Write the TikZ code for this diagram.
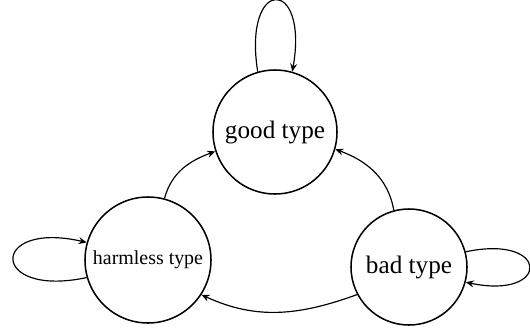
\documentclass[tikz,border=0pt]{standalone}
\usepackage{fontspec}
\setmainfont{Liberation Serif}
\usetikzlibrary{arrows.meta}

\begin{document}
\begin{tikzpicture}[>={Stealth[length=7pt,width=6pt,inset=2.5pt]},
  state/.style={draw,circle,line width=1.3pt,inner sep=0pt},
  trans/.style={->,line width=1pt}]
  \useasboundingbox (0,0) rectangle (15.9,-9.9);
  \node[state,minimum size=3.72cm,font=\fontsize{21.5}{25}\selectfont] (good) at (8.25,-3.96) {good type};
  \node[state,minimum size=3.78cm,font=\fontsize{17}{20}\selectfont] (harmless) at (4.44,-7.8) {harmless type};
  \node[state,minimum size=3.48cm,font=\fontsize{21.5}{25}\selectfont] (bad) at (12.27,-8.01) {bad type};
  % self loops
  \draw[trans] (good.106) .. controls +(99:2.9) and +(80:2.9) .. (good.74);
  \draw[trans] (harmless.196) .. controls +(192:3) and +(167:3) .. (harmless.164);
  \draw[trans] (bad.15) .. controls +(12:2.6) and +(348:2.6) .. (bad.345);
  % transitions
  \draw[trans] (harmless.75) to[out=75,in=200] (good.198);
  \draw[trans] (bad.105) to[out=100,in=340] (good.344);
  \draw[trans] (bad.208) to[out=200,in=335] (harmless.327);
\end{tikzpicture}
\end{document}
